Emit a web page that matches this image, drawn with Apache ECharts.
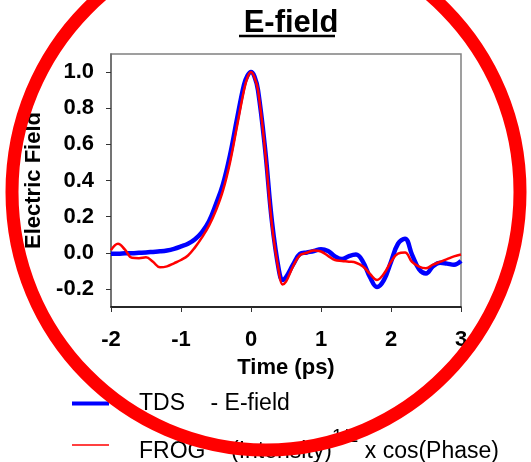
<!DOCTYPE html>
<html>
<head>
<meta charset="utf-8">
<script src="https://cdn.jsdelivr.net/npm/echarts@6/dist/echarts.min.js"></script>
<style>
html,body{margin:0;padding:0;background:#fff;}
#main{width:531px;height:462px;}
</style>
</head>
<body>
<div id="main"></div>
<script>
// time axis (ps)
var timeArr = [-2.0,-1.9,-1.8,-1.7,-1.6,-1.5,-1.4,-1.3,-1.2,-1.1,-1.0,-0.9,-0.8,-0.7,-0.6,-0.5,-0.4,-0.3,-0.2,-0.1,-0.05,
	0.0,0.05,0.1,0.2,0.3,0.4,0.45,0.5,0.6,0.7,0.8,0.9,1.0,1.1,1.2,1.3,1.4,1.5,1.6,1.7,1.8,1.9,2.0,2.1,2.2,2.3,2.4,2.5,2.6,2.7,2.8,2.9,3.0];
// TDS E-field (blue)
var tdsVals = [-0.005,-0.005,-0.003,-0.002,0.0,0.002,0.005,0.008,0.013,0.022,0.035,0.05,0.075,0.115,0.175,0.27,0.38,0.54,0.74,0.93,0.98,
	1.0,0.975,0.90,0.58,0.17,-0.10,-0.15,-0.135,-0.066,-0.006,0.002,0.01,0.02,0.01,-0.02,-0.035,-0.018,-0.01,-0.05,-0.135,-0.19,-0.15,-0.05,0.05,0.078,-0.01,-0.09,-0.115,-0.075,-0.055,-0.06,-0.066,-0.045];
// FROG (Intensity)^1/2 x cos(Phase) (red)
var frogVals = [0.015,0.05,0.017,-0.028,-0.03,-0.025,-0.05,-0.08,-0.075,-0.058,-0.04,-0.015,0.03,0.085,0.15,0.235,0.345,0.50,0.70,0.90,0.97,
	1.0,0.97,0.90,0.57,0.15,-0.11,-0.175,-0.16,-0.076,-0.013,0.0,0.013,0.007,-0.017,-0.04,-0.045,-0.049,-0.055,-0.076,-0.117,-0.15,-0.115,-0.05,-0.004,0.002,-0.05,-0.076,-0.085,-0.066,-0.05,-0.035,-0.02,-0.01];
var yTicks = [-0.2,0.0,0.2,0.4,0.6,0.8,1.0];

var fontFam = 'Arial, "Liberation Sans", sans-serif';

function pairs(xs, ys){
	var out = [];
	for(var i=0;i<xs.length;i++){
		out.push([xs[i], ys[i]]);
	}
	return out;
}

// legend text styles
var richTds = {
	f: {fontFamily: fontFam, fontSize: 23, color: '#000', padding: [0,0,0,25]}
};
var richFrog = {
	f: {fontFamily: fontFam, fontSize: 23, color: '#000', padding: [13,0,0,25]},
	n: {fontFamily: fontFam, fontSize: 23, color: '#000', padding: [13,0,0,0]},
	sup: {fontFamily: fontFam, fontSize: 19, color: '#000', padding: [0,0,17,0]}
};
function legendText(name){
	if(name == 'FROG') return '{f|FROG    (Intensity)}{sup|1/2}{n| x cos(Phase)}';
	return '{f|TDS    - E-field}';
}

var chart = echarts.init(document.getElementById('main'));
var option = {
	animation: false,
	title: {
		text: 'E-field',
		left: 286,
		top: 3,
		textAlign: 'center',
		textStyle: {fontFamily: fontFam, fontSize: 31, fontWeight: 'bold', color: '#000'}
	},
	grid: {
		left: 111, top: 54, width: 350, height: 253,
		show: true, borderColor: '#808080', borderWidth: 1.5
	},
	legend: [
		{
			left: 72, top: 392, padding: 0, itemWidth: 37, itemHeight: 14,
			textStyle: {rich: richTds},
			formatter: legendText,
			data: [{name: 'TDS', icon: 'path://M0,5L37,5L37,9L0,9Z', itemStyle: {color: '#0000ff'}}]
		},
		{
			left: 72, top: 427, padding: 0, itemWidth: 37, itemHeight: 14,
			textStyle: {rich: richFrog},
			formatter: legendText,
			data: [{name: 'FROG', icon: 'path://M0,6.2L37,6.2L37,7.8L0,7.8Z', itemStyle: {color: '#ff0000'}}]
		}
	],
	xAxis: {
		type: 'value', min: -2, max: 3, interval: 1,
		name: 'Time (ps)', nameLocation: 'middle', nameGap: 50,
		nameTextStyle: {fontFamily: fontFam, fontSize: 22, fontWeight: 'bold', color: '#000'},
		axisLine: {onZero: false, lineStyle: {color: '#000', width: 1.5}},
		axisTick: {length: 5, lineStyle: {color: '#333'}},
		axisLabel: {margin: 22, fontFamily: fontFam, fontSize: 22, fontWeight: 'bold', color: '#000',
			showMinLabel: true, showMaxLabel: true},
		splitLine: {show: false}
	},
	yAxis: {
		type: 'value', min: -0.3, max: 1.1,
		name: 'Electric Field', nameLocation: 'middle', nameGap: 66, nameRotate: 90,
		nameTextStyle: {fontFamily: fontFam, fontSize: 22, fontWeight: 'bold', color: '#000'},
		axisLine: {show: true, onZero: false, lineStyle: {color: '#666', width: 1.5}},
		axisTick: {show: true, length: 5, customValues: yTicks, lineStyle: {color: '#333'}},
		axisLabel: {margin: 17, customValues: yTicks, fontFamily: fontFam, fontSize: 22, fontWeight: 'bold', color: '#000',
			formatter: function(v){ return v.toFixed(1); }},
		splitLine: {show: false}
	},
	series: [
		{
			name: 'TDS', type: 'line', smooth: 0.4, symbol: 'none',
			data: pairs(timeArr, tdsVals),
			lineStyle: {color: '#0000ff', width: 4.5},
			itemStyle: {color: '#0000ff'}
		},
		{
			name: 'FROG', type: 'line', smooth: 0.4, symbol: 'none',
			data: pairs(timeArr, frogVals),
			lineStyle: {color: '#ff0000', width: 2.5},
			itemStyle: {color: '#ff0000'}
		}
	],
	graphic: [
		// title underline
		{type: 'line', shape: {x1: 239, y1: 36, x2: 335, y2: 36}, style: {stroke: '#000', lineWidth: 2.5}, z: 10},
		// big red ring drawn over everything
		{type: 'ellipse', shape: {cx: 266, cy: 192, rx: 254, ry: 258}, style: {fill: 'none', stroke: '#ff0000', lineWidth: 13}, z: 100}
	]
};
chart.setOption(option);
</script>
</body>
</html>
